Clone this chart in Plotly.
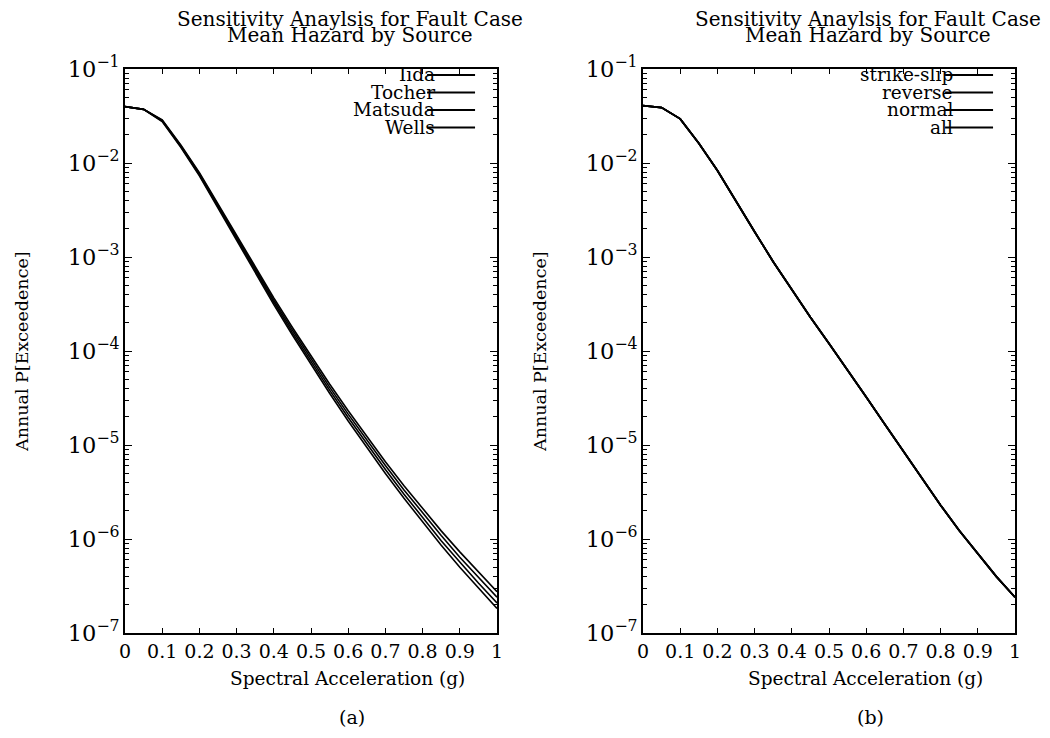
import plotly.graph_objects as go

# ---------------- data ----------------
accel = [0.0, 0.05, 0.1, 0.15, 0.2, 0.25, 0.3, 0.35, 0.4, 0.45, 0.5,
         0.55, 0.6, 0.65, 0.7, 0.75, 0.8, 0.85, 0.9, 0.95, 1.0]

# panel (a): magnitude-scaling relations
iida = [3.98e-2, 3.72e-2, 2.88e-2, 1.56e-2, 7.9e-3, 3.65e-3, 1.69e-3, 7.8e-4, 3.68e-4, 1.78e-4, 8.8e-5,
        4.46e-5, 2.31e-5, 1.23e-5, 6.65e-6, 3.69e-6, 2.10e-6, 1.22e-6, 7.3e-7, 4.42e-7, 2.75e-7]
tocher = [3.98e-2, 3.72e-2, 2.84e-2, 1.53e-2, 7.7e-3, 3.53e-3, 1.62e-3, 7.4e-4, 3.48e-4, 1.67e-4, 8.2e-5,
          4.13e-5, 2.13e-5, 1.12e-5, 6.04e-6, 3.33e-6, 1.88e-6, 1.09e-6, 6.4e-7, 3.88e-7, 2.40e-7]
matsuda = [3.98e-2, 3.72e-2, 2.80e-2, 1.50e-2, 7.5e-3, 3.41e-3, 1.55e-3, 7.1e-4, 3.30e-4, 1.57e-4, 7.7e-5,
           3.83e-5, 1.96e-5, 1.02e-5, 5.48e-6, 3.00e-6, 1.68e-6, 9.6e-7, 5.7e-7, 3.40e-7, 2.09e-7]
wells = [3.98e-2, 3.72e-2, 2.76e-2, 1.47e-2, 7.3e-3, 3.29e-3, 1.49e-3, 6.7e-4, 3.12e-4, 1.48e-4, 7.2e-5,
         3.55e-5, 1.80e-5, 9.36e-6, 4.98e-6, 2.71e-6, 1.51e-6, 8.6e-7, 5.0e-7, 2.98e-7, 1.82e-7]

# panel (b): fault mechanism (curves coincide)
strike_slip = [4.07e-2, 3.89e-2, 2.95e-2, 1.62e-2, 8.3e-3, 3.89e-3, 1.86e-3, 8.9e-4, 4.47e-4, 2.29e-4, 1.20e-4,
               6.3e-5, 3.24e-5, 1.66e-5, 8.5e-6, 4.37e-6, 2.29e-6, 1.23e-6, 6.9e-7, 3.98e-7, 2.40e-7]
reverse = [4.07e-2, 3.89e-2, 2.95e-2, 1.62e-2, 8.3e-3, 3.89e-3, 1.86e-3, 8.9e-4, 4.47e-4, 2.29e-4, 1.20e-4,
           6.3e-5, 3.24e-5, 1.66e-5, 8.5e-6, 4.37e-6, 2.29e-6, 1.23e-6, 6.9e-7, 3.98e-7, 2.40e-7]
normal = [4.07e-2, 3.89e-2, 2.95e-2, 1.62e-2, 8.3e-3, 3.89e-3, 1.86e-3, 8.9e-4, 4.47e-4, 2.29e-4, 1.20e-4,
          6.3e-5, 3.24e-5, 1.66e-5, 8.5e-6, 4.37e-6, 2.29e-6, 1.23e-6, 6.9e-7, 3.98e-7, 2.40e-7]
all_src = [4.07e-2, 3.89e-2, 2.95e-2, 1.62e-2, 8.3e-3, 3.89e-3, 1.86e-3, 8.9e-4, 4.47e-4, 2.29e-4, 1.20e-4,
           6.3e-5, 3.24e-5, 1.66e-5, 8.5e-6, 4.37e-6, 2.29e-6, 1.23e-6, 6.9e-7, 3.98e-7, 2.40e-7]

names_a = ["Iida", "Tocher", "Matsuda", "Wells"]
series_a = [iida, tocher, matsuda, wells]
names_b = ["strike-slip", "reverse", "normal", "all"]
series_b = [strike_slip, reverse, normal, all_src]

x_tickvals = [0, 0.1, 0.2, 0.3, 0.4, 0.5, 0.6, 0.7, 0.8, 0.9, 1]
x_ticktext = ["0", "0.1", "0.2", "0.3", "0.4", "0.5", "0.6", "0.7", "0.8", "0.9", "1"]

title_l1 = "Sensitivity Anaylsis for Fault Case"
title_l2 = "Mean Hazard by Source"
xlabel = "Spectral Acceleration (g)"
ylabel = "Annual P[Exceedence]"
captions = ["(a)", "(b)"]

# ---------------- figure ----------------
FONT = "DejaVu Serif, serif"
W, H = 1050, 738
OFF = 8  # page body margin: positions below are screen pixels, shifted into figure pixels


def px_x(sx):
    return (sx - OFF) / W


def px_y(sy):
    return 1 - (sy - OFF) / H


fig = go.Figure()

for name, ys in zip(names_a, series_a):
    fig.add_trace(go.Scatter(x=accel, y=ys, mode="lines", name=name,
                             line=dict(color="black", width=1.6),
                             xaxis="x", yaxis="y", showlegend=False))
for name, ys in zip(names_b, series_b):
    fig.add_trace(go.Scatter(x=accel, y=ys, mode="lines", name=name,
                             line=dict(color="black", width=1.8),
                             xaxis="x2", yaxis="y2", showlegend=False))

left_px = [125, 643]
width_px = 372
top_px, bot_px = 69, 633
ydom = [px_y(bot_px), px_y(top_px)]

axis_common = dict(showgrid=False, zeroline=False, showline=True, linecolor="black",
                   linewidth=1.5, mirror="allticks", ticks="inside", tickcolor="black",
                   tickwidth=1.2, automargin=False)

for i, (xa, ya) in enumerate([("xaxis", "yaxis"), ("xaxis2", "yaxis2")]):
    xdom = [px_x(left_px[i]), px_x(left_px[i] + width_px)]
    fig.layout[xa] = dict(axis_common, domain=xdom, range=[0, 1],
                          tickvals=x_tickvals, ticktext=x_ticktext, ticklen=5,
                          tickfont=dict(family=FONT, size=19, color="black"),
                          anchor="y" if i == 0 else "y2")
    fig.layout[ya] = dict(axis_common, domain=ydom, type="log", range=[-7, -1],
                          tickmode="linear", tick0=0, dtick=1,
                          exponentformat="power", showexponent="all", ticklen=7,
                          tickfont=dict(family=FONT, size=18, color="black"),
                          minor=dict(ticks="inside", ticklen=4, tickcolor="black", tickwidth=1,
                                     dtick="D1", showgrid=False),
                          anchor="x" if i == 0 else "x2")

annotations = []
shapes = []
tf = dict(family=FONT, size=20, color="black")
for i in range(2):
    cx = px_x(left_px[i] + 225)
    annotations.append(dict(text=title_l1, x=cx, y=px_y(19), xref="paper", yref="paper",
                            showarrow=False, font=tf, xanchor="center", yanchor="middle"))
    annotations.append(dict(text=title_l2, x=cx, y=px_y(35), xref="paper", yref="paper",
                            showarrow=False, font=tf, xanchor="center", yanchor="middle"))
    annotations.append(dict(text=xlabel, x=px_x(left_px[i] + 222), y=px_y(678),
                            xref="paper", yref="paper", showarrow=False,
                            font=dict(family=FONT, size=18.5, color="black"),
                            xanchor="center", yanchor="middle"))
    annotations.append(dict(text=ylabel, x=px_x(left_px[i] - 103), y=px_y(352),
                            xref="paper", yref="paper", showarrow=False, textangle=-90,
                            font=dict(family=FONT, size=17.5, color="black"),
                            xanchor="center", yanchor="middle"))
    annotations.append(dict(text=captions[i], x=px_x(left_px[i] + 227), y=px_y(717),
                            xref="paper", yref="paper", showarrow=False,
                            font=dict(family=FONT, size=19, color="black"),
                            xanchor="center", yanchor="middle"))
    names = names_a if i == 0 else names_b
    xr = "x domain" if i == 0 else "x2 domain"
    yr = "y domain" if i == 0 else "y2 domain"
    for k, nm in enumerate(names):
        yd = 1 - (6 + 17.5 * k) / (bot_px - top_px)
        annotations.append(dict(text=nm, x=0.838, y=yd, xref=xr, yref=yr, showarrow=False,
                                font=dict(family=FONT, size=18.5, color="black"),
                                xanchor="right", yanchor="middle"))
        shapes.append(dict(type="line", x0=0.812, x1=0.941, y0=yd, y1=yd, xref=xr, yref=yr,
                           line=dict(color="black", width=2), layer="above"))

fig.update_layout(template="none", width=W, height=H, margin=dict(l=0, r=0, t=0, b=0),
                  paper_bgcolor="white", plot_bgcolor="white",
                  annotations=annotations, shapes=shapes, showlegend=False)

fig.write_html("out.html")
